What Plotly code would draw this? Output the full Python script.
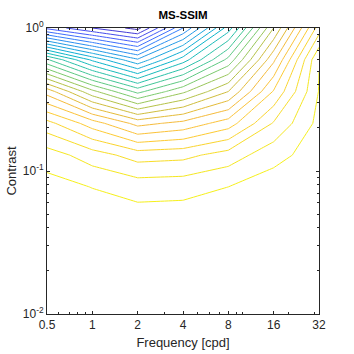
import numpy as np
import plotly.graph_objects as go

# ---- data ----
freq = [0.5, 1, 2, 4, 8, 16, 32]                       # cpd
contrast = [0.01, 0.01668, 0.02783, 0.04642, 0.07743,
            0.1292, 0.2154, 0.3594, 0.5995, 1.0]
# MS-SSIM value (in contour-level units) per frequency, listed from low to high contrast
z_f05 = [27.98, 27.96, 27.90, 27.75, 27.41, 26.50, 24.35, 20.57, 14.16, 3.74]
z_f1  = [27.98, 27.95, 27.88, 27.65, 26.97, 25.50, 22.50, 17.30, 10.80, 2.00]
z_f2  = [27.97, 27.93, 27.80, 27.45, 26.58, 24.55, 20.67, 14.70, 8.15, 0.62]
z_f4  = [27.97, 27.93, 27.80, 27.48, 26.65, 24.70, 21.30, 16.80, 11.50, 6.00]
z_f8  = [27.98, 27.95, 27.86, 27.62, 27.00, 25.45, 22.50, 19.00, 15.30, 11.50]
z_f16 = [27.99, 27.97, 27.93, 27.85, 27.53, 26.65, 25.10, 23.10, 20.80, 18.00]
z_f32 = [28.00, 27.99, 27.97, 27.90, 27.70, 27.50, 27.30, 27.05, 26.97, 24.50]
level_first, level_last = 1, 27

xticks = [0.5, 1, 2, 4, 8, 16, 32]
xticktext = ["0.5", "1", "2", "4", "8", "16", "32"]
yticks = [0.01, 0.1, 1]
yticktext = ["10<sup>-2</sup>", "10<sup>-1</sup>", "10<sup>0</sup>"]
xminor = [0.6, 0.7, 0.8, 0.9, 3, 5, 6, 7, 9, 10, 20, 30]
yminor = [0.02, 0.03, 0.04, 0.05, 0.06, 0.07, 0.08, 0.09,
          0.2, 0.3, 0.4, 0.5, 0.6, 0.7, 0.8, 0.9]

# ---- parula colormap (anchor colours) ----
parula = [
    [0.2422, 0.1504, 0.6603], [0.2737, 0.2535, 0.8917], [0.2795, 0.3698, 0.9877],
    [0.2151, 0.4864, 0.9954], [0.1540, 0.5902, 0.9218], [0.1033, 0.6562, 0.8658],
    [0.0394, 0.7074, 0.8021], [0.1288, 0.7529, 0.6956], [0.2905, 0.7862, 0.5714],
    [0.4855, 0.7946, 0.4259], [0.6865, 0.7666, 0.2921], [0.8560, 0.7358, 0.2165],
    [0.9741, 0.7343, 0.2367], [0.9950, 0.7929, 0.2047], [0.9779, 0.8549, 0.1656],
    [0.9593, 0.9165, 0.1216], [0.9769, 0.9839, 0.0805]]
ppos = [i / 16 for i in range(17)]
parr = np.array(parula)

Z = np.array([z_f05, z_f1, z_f2, z_f4, z_f8, z_f16, z_f32]).T
zmin, zmax = Z.min(), Z.max()
tlo = (level_first - zmin) / (zmax - zmin)
thi = (level_last - zmin) / (zmax - zmin)
cs = []
for s in np.linspace(0, 1, 27):
    t = tlo + s * (thi - tlo)
    r, g, b = [np.interp(t, ppos, parr[:, k]) for k in range(3)]
    cs.append([float(s), f"rgb({int(r*255)},{int(g*255)},{int(b*255)})"])

fig = go.Figure()
fig.add_trace(go.Contour(
    x=freq, y=contrast, z=Z,
    contours=dict(coloring="lines", start=level_first, end=level_last, size=1,
                  showlabels=False),
    line=dict(width=1, smoothing=0), colorscale=cs, showscale=False,
    hoverinfo="skip"))

axcol = "#262626"
font = "Liberation Sans, Arial, sans-serif"
fig.update_layout(
    width=354, height=354,
    margin=dict(l=47, r=35, t=28, b=40, autoexpand=False),
    paper_bgcolor="white", plot_bgcolor="white",
    font=dict(family=font, size=12, color=axcol),
    showlegend=False,
    title=dict(text="<b>MS-SSIM</b>", x=0.5, xref="paper", xanchor="center",
               y=1 - 14.5 / 354, yanchor="middle", font=dict(size=11.5, color="black")),
)
fig.update_xaxes(
    type="log", range=[np.log10(0.5), np.log10(32)], automargin=False,
    tickmode="array", tickvals=xticks, ticktext=xticktext, tickfont=dict(size=12),
    ticks="inside", ticklen=3, tickcolor=axcol, mirror="ticks",
    showline=True, linecolor=axcol, linewidth=1, showgrid=False, zeroline=False,
    minor=dict(tickmode="array", tickvals=xminor, ticks="inside", ticklen=2,
               tickcolor=axcol, showgrid=False),
    title=dict(text="Frequency [cpd]", font=dict(size=13), standoff=6),
)
fig.update_yaxes(
    type="log", range=[-2, 0], automargin=False,
    tickmode="array", tickvals=yticks, ticktext=yticktext, tickfont=dict(size=12),
    ticks="inside", ticklen=3, tickcolor=axcol, mirror="ticks",
    showline=True, linecolor=axcol, linewidth=1, showgrid=False, zeroline=False,
    minor=dict(tickmode="array", tickvals=yminor, ticks="inside", ticklen=2,
               tickcolor=axcol, showgrid=False),
    title=dict(text="Contrast", font=dict(size=13), standoff=3),
)
fig.write_html("out.html")
